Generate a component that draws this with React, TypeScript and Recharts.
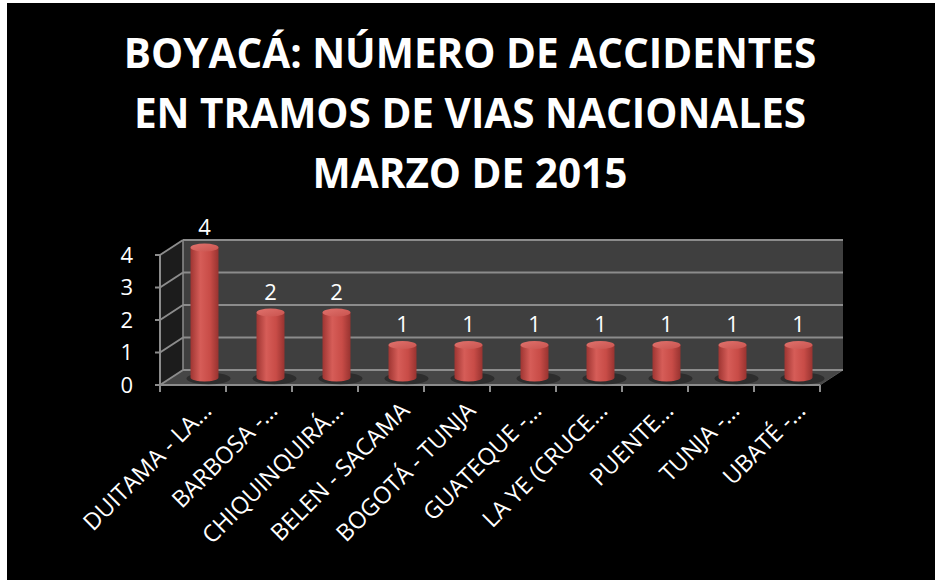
import React from 'react'
import {
  Bar,
  BarChart,
  CartesianGrid,
  LabelList,
  ReferenceArea,
  XAxis,
  YAxis,
} from 'recharts'

const titleLines = [
  'BOYACÁ: NÚMERO DE ACCIDENTES',
  'EN TRAMOS DE VIAS NACIONALES',
  'MARZO DE 2015',
]

const tramos = [
  'DUITAMA - LA…',
  'BARBOSA -…',
  'CHIQUINQUIRÁ…',
  'BELEN - SACAMA',
  'BOGOTÁ - TUNJA',
  'GUATEQUE -…',
  'LA YE (CRUCE…',
  'PUENTE…',
  'TUNJA -…',
  'UBATÉ -…',
]
const accidentes = [4, 2, 2, 1, 1, 1, 1, 1, 1, 1]
const yTicks = [0, 1, 2, 3, 4]

const data = tramos.map((tramo, i) => ({ tramo, pos: i + 0.5, accidentes: accidentes[i] }))
const slotTicks = [...tramos.map((_, i) => i), tramos.length]

// 3d depth of the plot box
const DX = 23
const DY = 15
const GRID = '#8c8c8c'
const FONT = '"Open Sans", sans-serif'

const Walls = (props: any) => {
  const { x, y, width, height } = props
  const b = y + height
  return (
    <g>
      <polygon
        points={`${x},${y} ${x + DX},${y - DY} ${x + DX},${b - DY} ${x},${b}`}
        fill='#1c1c1c'
      />
      <rect x={x + DX} y={y - DY} width={width} height={height} fill='#3f3f3f' />
      <polygon
        points={`${x},${b} ${x + DX},${b - DY} ${x + width + DX},${b - DY} ${x + width},${b}`}
        fill='#464646'
      />
      <line x1={x + DX} y1={y - DY} x2={x + DX} y2={b - DY} stroke={GRID} strokeWidth={1.5} />
      <line x1={x + width} y1={b} x2={x + width + DX} y2={b - DY} stroke='#555' strokeWidth={1} />
    </g>
  )
}

const GridLine = (props: any) => {
  const { x1, y1, x2, y2 } = props
  return (
    <g>
      <line x1={x1} y1={y1} x2={x1 + DX} y2={y1 - DY} stroke={GRID} strokeWidth={2} />
      <line x1={x1 + DX} y1={y1 - DY} x2={x2 + DX} y2={y2 - DY} stroke={GRID} strokeWidth={2} />
    </g>
  )
}

const Cylinder = (props: any) => {
  const { x, y, width, height } = props
  const cx = x + width / 2 + DX / 2
  const top = y - DY / 2
  const bot = y + height - DY / 2
  const rx = width / 2
  const ry = 4
  return (
    <g>
      <ellipse cx={cx + 4} cy={bot + 1} rx={rx + 8} ry={ry + 2} fill='rgba(0,0,0,0.35)' />
      <path
        d={`M${cx - rx},${top} L${cx - rx},${bot} A${rx},${ry} 0 0 0 ${cx + rx},${bot} L${cx + rx},${top} Z`}
        fill='url(#cylBody)'
      />
      <ellipse cx={cx} cy={top} rx={rx} ry={ry} fill='url(#cylTop)' />
    </g>
  )
}

const ValueLabel = (props: any) => {
  const { x, y, width, value } = props
  return (
    <text
      x={x + width / 2 + DX / 2}
      y={y - DY / 2 - 22}
      textAnchor='middle'
      dominantBaseline='central'
      fill='#ffffff'
      fontSize={22}
      fontFamily={FONT}
    >
      {value}
    </text>
  )
}

const CategoryTick = (props: any) => {
  const { x, y, payload } = props
  const ax = x + 20
  const ay = y + 19
  return (
    <text
      x={ax}
      y={ay}
      transform={`rotate(-45 ${ax} ${ay})`}
      textAnchor='end'
      fill='#ffffff'
      fontSize={23.5}
      fontFamily={FONT}
    >
      {payload.value}
    </text>
  )
}

export default function App() {
  return (
    <div style={{ position: 'fixed', left: 0, top: 0, width: 935, height: 580, background: '#fff', fontFamily: FONT }}>
      <div style={{ position: 'absolute', left: 7, top: 3, width: 928, height: 577, background: '#000' }} />
      <svg width={935} height={200} style={{ position: 'absolute', left: 0, top: 0 }}>
        {titleLines.map((line, i) => (
          <text
            key={line}
            x={470}
            y={68 + i * 60}
            textAnchor='middle'
            fill='#ffffff'
            fontSize={40.5}
            fontWeight={700}
            fontFamily={FONT}
          >
            {line}
          </text>
        ))}
      </svg>

      <BarChart
        width={935}
        height={580}
        data={data}
        margin={{ top: 255, right: 115, bottom: 95, left: 160 }}
        style={{ position: 'absolute', left: 0, top: 0 }}
      >
        <XAxis
          type='number'
          dataKey='pos'
          domain={[0, tramos.length]}
          ticks={slotTicks}
          tick={() => <g />}
          tickSize={7}
          height={100}
          stroke={GRID}
          strokeWidth={2}
        />
        <YAxis hide dataKey='accidentes' domain={[0, 4]} ticks={yTicks} />
        <ReferenceArea
          x1={0}
          x2={tramos.length}
          y1={0}
          y2={4}
          ifOverflow='visible'
          shape={Walls}
        />
        <Bar dataKey='accidentes' fill='none' isAnimationActive={false} />
      </BarChart>

      <BarChart
        width={935}
        height={580}
        data={data}
        barSize={28}
        margin={{ top: 255, right: 115, bottom: 95, left: 100 }}
        style={{ position: 'absolute', left: 0, top: 0 }}
      >
        <defs>
          <linearGradient id='cylBody' x1='0' y1='0' x2='1' y2='0'>
            <stop offset='0%' stopColor='#9e3532' />
            <stop offset='35%' stopColor='#d65d58' />
            <stop offset='70%' stopColor='#c84c47' />
            <stop offset='100%' stopColor='#983330' />
          </linearGradient>
          <linearGradient id='cylTop' x1='0' y1='0' x2='1' y2='1'>
            <stop offset='0%' stopColor='#e0726d' />
            <stop offset='100%' stopColor='#c9534e' />
          </linearGradient>
        </defs>
        <CartesianGrid vertical={false} horizontal={GridLine} />
        <XAxis dataKey='tramo' interval={0} axisLine={false} tickLine={false} height={100} tick={CategoryTick} />
        <YAxis
          domain={[0, 4]}
          ticks={yTicks}
          width={60}
          stroke={GRID}
          strokeWidth={2}
          tickSize={5}
          tickMargin={22}
          tick={{ fill: '#ffffff', fontSize: 22, fontFamily: FONT }}
        />
        <Bar dataKey='accidentes' shape={Cylinder} isAnimationActive={false}>
          <LabelList dataKey='accidentes' content={ValueLabel} />
        </Bar>
      </BarChart>
    </div>
  )
}
